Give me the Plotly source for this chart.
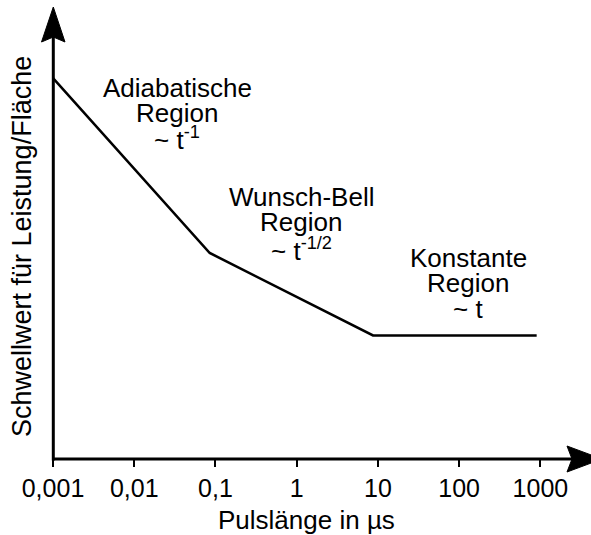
import plotly.graph_objects as go

# Pulse length (µs) at the break points of the threshold curve
pulse_us = [0.001, 0.085, 8.7, 900]
# Threshold power per area (arbitrary units)
threshold = [3.81, 2.06, 1.235, 1.235]

tick_vals = [0.001, 0.01, 0.1, 1, 10, 100, 1000]
tick_text = ["0,001", "0,01", "0,1", "1", "10", "100", "1000"]

region_lines = [
    ["Adiabatische", "Region", "~ t<sup>-1</sup>"],
    ["Wunsch-Bell", "Region", "~ t<sup>-1/2</sup>"],
    ["Konstante", "Region", "~ t"],
]

FONT = "Liberation Sans, Arial, sans-serif"
W, H = 591, 535
L, R, T, B = 53, 0, 0, 76
PW, PH = W - L - R, H - T - B


def px(x):
    return (x - L) / PW


def py(y):
    return (T + PH - y) / PH


fig = go.Figure()
fig.add_trace(go.Scatter(
    x=pulse_us, y=threshold, mode="lines",
    line=dict(color="black", width=2.6),
    hoverinfo="skip", showlegend=False,
))

shapes = [
    # y axis with arrow
    dict(type="line", xref="paper", yref="paper",
         x0=px(53.3), x1=px(53.3), y0=py(460.5), y1=py(36),
         line=dict(color="black", width=3)),
    dict(type="path", xref="paper", yref="paper",
         path=f"M {px(53.3)} {py(7)} L {px(41.5)} {py(42)} L {px(53.3)} {py(37)} "
              f"L {px(65)} {py(42)} Z",
         fillcolor="black", line=dict(color="black", width=1)),
    # x axis with arrow
    dict(type="line", xref="paper", yref="paper",
         x0=px(52), x1=px(575), y0=py(459), y1=py(459),
         line=dict(color="black", width=3)),
    dict(type="path", xref="paper", yref="paper",
         path=f"M {px(602)} {py(459)} L {px(567)} {py(446)} L {px(572)} {py(459)} "
              f"L {px(567)} {py(472)} Z",
         fillcolor="black", line=dict(color="black", width=1)),
]

annotations = []
# region labels, one annotation per line for tight line spacing
centers = [(177, [88, 113, 139]), (301, [197, 222, 249]), (468, [258, 283, 309])]
for lines, (cx, ys) in zip(region_lines, centers):
    for text, yy in zip(lines, ys):
        annotations.append(dict(
            x=px(cx), y=py(yy), xref="paper", yref="paper",
            text=text, showarrow=False, xanchor="center", yanchor="middle",
            font=dict(family=FONT, size=26, color="black"),
        ))

annotations.append(dict(
    x=px(22), y=py(247), xref="paper", yref="paper",
    text="Schwellwert für Leistung/Fläche", textangle=-90, showarrow=False,
    xanchor="center", yanchor="middle",
    font=dict(family=FONT, size=27, color="black"),
))
annotations.append(dict(
    x=px(306), y=py(520), xref="paper", yref="paper",
    text="Pulslänge in µs", showarrow=False,
    xanchor="center", yanchor="middle",
    font=dict(family=FONT, size=26, color="black"),
))

fig.update_layout(
    width=W, height=H,
    margin=dict(l=L, r=R, t=T, b=B),
    paper_bgcolor="white", plot_bgcolor="white",
    shapes=shapes, annotations=annotations,
    xaxis=dict(
        type="log", range=[-3, -3 + PW / 81.23],
        tickvals=tick_vals, ticktext=tick_text,
        ticks="outside", ticklen=7, tickwidth=2, tickcolor="black",
        showgrid=False, zeroline=False, showline=False,
        tickfont=dict(family=FONT, size=25, color="black"),
    ),
    yaxis=dict(
        range=[0, PH / 100], showticklabels=False, ticks="",
        showgrid=False, zeroline=False, showline=False,
    ),
)

fig.write_html("out.html")
